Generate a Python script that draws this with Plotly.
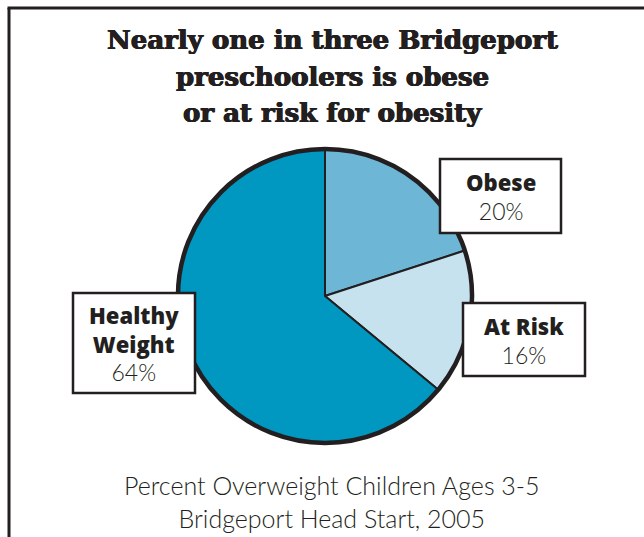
import plotly.graph_objects as go

categories = ["Obese", "At Risk", "Healthy Weight"]
values = [20, 16, 64]
colors = ["#6DB6D6", "#C7E2EF", "#0097C1"]
label_names = ["Obese", "At Risk", "Healthy<br>Weight"]

title_lines = ["Nearly one in three Bridgeport", "preschoolers is obese", "or at risk for obesity"]
caption_text = "Percent Overweight Children Ages 3-5<br>Bridgeport Head Start, 2005"

W, H = 644, 537
ink = "#231F20"

def px(x):
    return x / W

def py(y):
    return 1 - y / H

pie_domain = dict(x=[px(178), px(472)], y=[py(443), py(149)])

fig = go.Figure()
fig.add_trace(go.Pie(
    labels=categories, values=values, sort=False, direction="clockwise", rotation=0,
    marker=dict(colors=colors, line=dict(color=ink, width=2)),
    textinfo="none", hoverinfo="label+percent", showlegend=False,
    domain=pie_domain,
))
# outer outline ring
fig.add_trace(go.Pie(
    labels=["outline"], values=[1], sort=False,
    marker=dict(colors=["rgba(0,0,0,0)"], line=dict(color=ink, width=4.5)),
    textinfo="none", hoverinfo="skip", showlegend=False,
    domain=pie_domain,
))

shapes = [
    dict(type="line", xref="paper", yref="paper", x0=px(7.5), x1=px(644), y0=py(8), y1=py(8),
         line=dict(color=ink, width=3)),
    dict(type="line", xref="paper", yref="paper", x0=px(9), x1=px(9), y0=py(8), y1=py(537),
         line=dict(color=ink, width=3)),
]

boxes = [(440, 159, 561, 233), (463, 303, 585, 376), (73, 293, 195, 393)]
for (x0, y0, x1, y1) in boxes:
    shapes.append(dict(type="rect", xref="paper", yref="paper", x0=px(x0), x1=px(x1),
                       y0=py(y1), y1=py(y0), fillcolor="white", line=dict(color=ink, width=2.5),
                       layer="above"))

annotations = []
for line, yc in zip(title_lines, [40, 77, 113]):
    annotations.append(dict(text="<b>" + line + "</b>", x=px(332), y=py(yc), xref="paper", yref="paper",
                            showarrow=False,
                            font=dict(family="DejaVu Serif", size=26, color=ink,
                                      shadow="0.6px 0 0 #231F20, -0.6px 0 0 #231F20, 0 0.4px 0 #231F20"),
                            xanchor="center", yanchor="middle"))
annotations.append(dict(text=caption_text, x=px(332), y=py(501), xref="paper", yref="paper",
                        showarrow=False, font=dict(family="Lato", size=25, color=ink, weight=300),
                        xanchor="center", yanchor="middle", align="center"))

for (x0, y0, x1, y1), name, v in zip(boxes, label_names, values):
    annotations.append(dict(
        text="<span style='font-weight:800'>" + name + "</span><br>"
             "<span style='font-family:Lato;font-weight:300;font-size:23px'>" + f"{v}%" + "</span>",
        x=px((x0 + x1) / 2), y=py((y0 + y1) / 2), xref="paper", yref="paper",
        showarrow=False, font=dict(family="Open Sans", size=22, color=ink),
        xanchor="center", yanchor="middle", align="center",
    ))

fig.update_layout(
    width=W, height=H, margin=dict(l=0, r=0, t=0, b=0),
    paper_bgcolor="white", plot_bgcolor="white",
    shapes=shapes, annotations=annotations,
)

fig.write_html("out.html", config={"displayModeBar": False},
               post_script="document.body.style.margin='0';")
